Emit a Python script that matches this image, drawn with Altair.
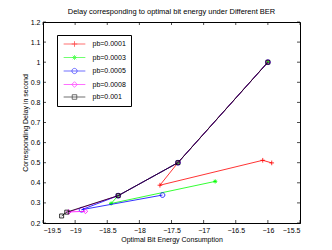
import altair as alt
import pandas as pd

labels = ["pb=0.0001", "pb=0.0003", "pb=0.0005", "pb=0.0008", "pb=0.001"]
red_x = [-16.0, -17.4, -17.68, -16.08, -15.94]
red_y = [1.0, 0.5, 0.388, 0.512, 0.499]
green_x = [-16.0, -17.4, -18.33, -18.44, -16.82]
green_y = [1.0, 0.5, 0.336, 0.297, 0.407]
blue_x = [-16.0, -17.4, -18.33, -18.9, -17.64]
blue_y = [1.0, 0.5, 0.336, 0.266, 0.339]
mag_x = [-16.0, -17.4, -18.33, -19.1, -18.84]
mag_y = [1.0, 0.5, 0.336, 0.255, 0.258]
blk_x = [-16.0, -17.4, -18.33, -19.13, -19.21]
blk_y = [1.0, 0.5, 0.336, 0.254, 0.235]
colors = ["#ff0000", "#00ff00", "#0000ff", "#ff00ff", "#000000"]
x_ticks = [-19.5, -19.0, -18.5, -18.0, -17.5, -17.0, -16.5, -16.0, -15.5]
y_ticks = [0.2, 0.3, 0.4, 0.5, 0.6, 0.7, 0.8, 0.9, 1.0, 1.1, 1.2]

FONT = "Liberation Sans"
W, H = 257, 201

markers = [
    "M-1,0H1M0,-1V1",
    "M-0.9,0H0.9M0,-0.9V0.9M-0.65,-0.65L0.65,0.65M-0.65,0.65L0.65,-0.65",
    "M1,0A1,1 0 1,1 -1,0A1,1 0 1,1 1,0",
    "M0,-1L1,0L0,1L-1,0Z",
    "M-0.85,-0.85H0.85V0.85H-0.85Z",
]
L = "M-3.1,0H3.1"
legend_shapes = [
    L + "M-0.8,0H0.8M0,-0.8V0.8",
    L + "M-0.7,0H0.7M0,-0.7V0.7M-0.5,-0.5L0.5,0.5M-0.5,0.5L0.5,-0.5",
    L + "M0.75,0A0.75,0.75 0 1,1 -0.75,0A0.75,0.75 0 1,1 0.75,0",
    L + "M0,-0.8L0.8,0L0,0.8L-0.8,0Z",
    L + "M-0.65,-0.65H0.65V0.65H-0.65Z",
]

xs = [red_x, green_x, blue_x, mag_x, blk_x]
ys = [red_y, green_y, blue_y, mag_y, blk_y]
rows = []
for lab, sx, sy in zip(labels, xs, ys):
    for i, (a, b) in enumerate(zip(sx, sy)):
        rows.append({"series": lab, "x": a, "y": b, "i": i})
df = pd.DataFrame(rows)

xscale = alt.Scale(domain=[-19.5, -15.5], nice=False, zero=False)
yscale = alt.Scale(domain=[0.2, 1.2], nice=False, zero=False)

axis_x = alt.Axis(values=x_ticks, format="~g", ticks=False, grid=False, labelPadding=3,
                  labelOverlap=False, title="Optimal Bit Energy Consumption", titlePadding=2)
axis_y = alt.Axis(values=y_ticks, format="~g", ticks=False, grid=False, labelPadding=3,
                  labelOverlap=False, title="Corresponding Delay in second", titlePadding=2)


def X(field):
    return alt.X(field, scale=xscale, axis=axis_x)


def Y(field):
    return alt.Y(field, scale=yscale, axis=axis_y)


base = alt.Chart(df)
layers = []
for k, lab in enumerate(labels):
    sub = base.transform_filter(alt.datum.series == lab)
    layers.append(sub.mark_line(color=colors[k], strokeWidth=0.8).encode(
        x=X("x:Q"), y=Y("y:Q"), order="i:Q"))
    layers.append(sub.mark_point(shape=markers[k], color=colors[k], size=22,
                                 filled=False, strokeWidth=0.8, opacity=1).encode(
        x=X("x:Q"), y=Y("y:Q")))

xt = alt.Chart(pd.DataFrame({"x": x_ticks}))
yt = alt.Chart(pd.DataFrame({"y": y_ticks}))
tick_layers = [
    xt.mark_rule(color="black", strokeWidth=0.7).encode(x=X("x:Q"), y=alt.value(H), y2=alt.value(H - 3)),
    xt.mark_rule(color="black", strokeWidth=0.7).encode(x=X("x:Q"), y=alt.value(0), y2=alt.value(3)),
    yt.mark_rule(color="black", strokeWidth=0.7).encode(y=Y("y:Q"), x=alt.value(0), x2=alt.value(3)),
    yt.mark_rule(color="black", strokeWidth=0.7).encode(y=Y("y:Q"), x=alt.value(W), x2=alt.value(W - 3)),
]

legend = alt.Legend(orient="none", legendX=14, legendY=13, title=None,
                    symbolSize=49, symbolStrokeWidth=0.8, symbolOffset=8.5,
                    labelOffset=14, padding=5, rowPadding=3.5,
                    strokeColor="black", fillColor="white",
                    labelFont=FONT, labelFontSize=7, labelColor="black")
legend_layer = base.transform_filter("false").mark_point(filled=False).encode(
    color=alt.Color("series:N", scale=alt.Scale(domain=labels, range=colors), legend=legend),
    shape=alt.Shape("series:N", scale=alt.Scale(domain=labels, range=legend_shapes), legend=legend),
)

chart = alt.layer(*layers, *tick_layers, legend_layer).properties(
    width=W, height=H,
    title=alt.TitleParams("Delay corresponding to optimal bit energy under Different BER",
                          font=FONT, fontSize=7.5, fontWeight="normal", color="black",
                          offset=3, anchor="middle"),
    autosize=alt.AutoSizeParams(type="none"),
    padding={"left": 35, "top": 14, "right": 24, "bottom": 27},
).configure_view(stroke="black", strokeWidth=1).configure_axis(
    domainColor="black", domainWidth=1, labelColor="black", titleColor="black",
    labelFont=FONT, titleFont=FONT, labelFontSize=7, titleFontSize=7,
    titleFontWeight="normal", labelOverlap=False,
)

chart.save("out.html", embed_options={"renderer": "svg", "actions": False})
